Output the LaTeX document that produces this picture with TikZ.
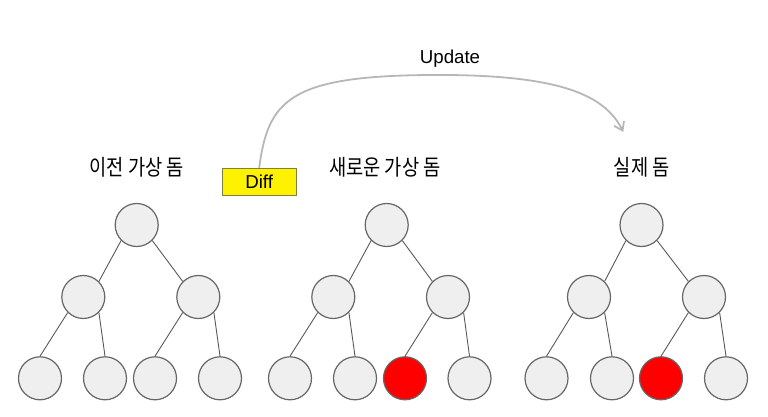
\documentclass[tikz,border=0pt]{standalone}
\usepackage{fontspec}
\setmainfont{Liberation Sans}
\newfontfamily\kr{Noto Sans CJK KR}[FakeStretch=0.85]
\usetikzlibrary{shapes,arrows.meta,positioning}
\definecolor{nodegray}{HTML}{EFEFEF}
\definecolor{rimgray}{HTML}{666666}
\definecolor{linegray}{HTML}{595959}
\definecolor{diffrim}{HTML}{7F7F3F}
\definecolor{updgray}{HTML}{B7B7B7}

\begin{document}
\begin{tikzpicture}[x=1pt,y=-1pt,
  dom/.style={circle,draw=rimgray,fill=nodegray,line width=1.2pt,minimum size=43pt,inner sep=0pt},
  hot/.style={dom,fill=red},
  link/.style={draw=linegray,line width=0.9pt},
  title/.style={font=\kr\fontsize{22}{24}\selectfont},
  lat/.style={font=\fontsize{18.7}{22}\selectfont}]
\useasboundingbox (0,0) rectangle (768,417);
% titles
\node[title] (tp) at (136.7,167) {이전 가상 돔};
\node[title] (tn) at (385,167) {새로운 가상 돔};
\node[title] (tr) at (641.7,167) {실제 돔};
% previous virtual dom
\node[dom] (pH) at (136.7,225) {};
\node[dom] (pL) at (83.3,297) {};
\node[dom] (pR) at (198.3,297) {};
\node[dom] (pLL) at (40,378.3) {};
\node[dom] (pLR) at (105,378.3) {};
\node[dom] (pRL) at (155,378.3) {};
\node[dom] (pRR) at (220,378.3) {};
% new virtual dom
\node[dom] (nH) at (386.7,225) {};
\node[dom] (nL) at (333.3,297) {};
\node[dom] (nR) at (448,297) {};
\node[dom] (nLL) at (290,378.3) {};
\node[dom] (nLR) at (355,378.3) {};
\node[hot] (nRL) at (405,378.3) {};
\node[dom] (nRR) at (469.5,378.3) {};
% real dom
\node[dom] (rH) at (641.5,225) {};
\node[dom] (rL) at (589,297) {};
\node[dom] (rR) at (704,297) {};
\node[dom] (rLL) at (546.5,378.3) {};
\node[dom] (rLR) at (612,378.3) {};
\node[hot] (rRL) at (661,378.3) {};
\node[dom] (rRR) at (726,378.3) {};
\draw[link] (pH.225) -- (pL.45) (pH.-45) -- (pR.135) (pL.225) -- (pLL.north) (pL.-45) -- (pLR.north) (pR.225) -- (pRL.north) (pR.-45) -- (pRR.north);
\draw[link] (nH.225) -- (nL.45) (nH.-45) -- (nR.135) (nL.225) -- (nLL.north) (nL.-45) -- (nLR.north) (nR.225) -- (nRL.north) (nR.-45) -- (nRR.north);
\draw[link] (rH.225) -- (rL.45) (rH.-45) -- (rR.135) (rL.225) -- (rLL.north) (rL.-45) -- (rLR.north) (rR.225) -- (rRL.north) (rR.-45) -- (rRR.north);
% diff and update
\node[lat,draw=diffrim,fill=yellow,line width=1pt,minimum width=73.7pt,minimum height=26.7pt,inner sep=0pt] (diff) at (259.2,181.7) {Diff};
\node[lat] (upl) at (450,59) {Update};
\coordinate (upd) at (623.3,132);
\draw[updgray,line width=1.8pt,-{Straight Barb[length=8pt,width=11pt]}] (diff.north) .. controls (268,100) and (290,76) .. (430,75) .. controls (560,74) and (605,95) .. (upd);
\end{tikzpicture}
\end{document}
